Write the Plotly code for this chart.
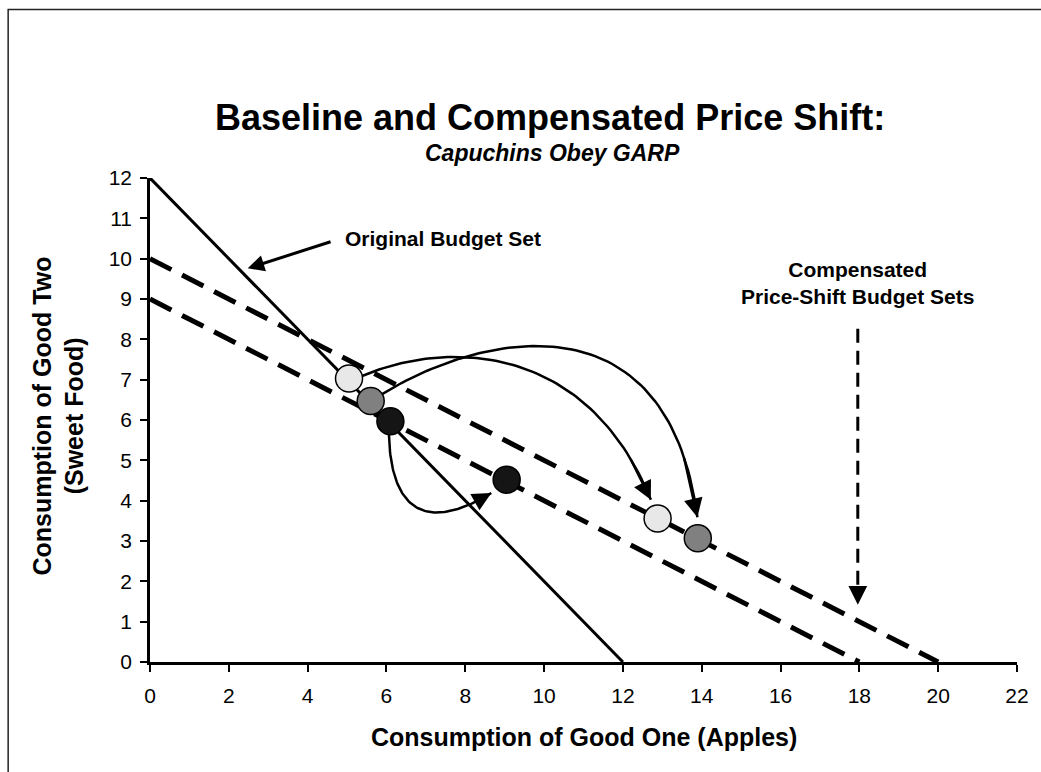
import numpy as np
import plotly.graph_objects as go

# ---- data ----
orig_budget_x = [0, 12]
orig_budget_y = [12, 0]
comp_high_x = [0, 20]
comp_high_y = [10, 0]
comp_low_x = [0, 18]
comp_low_y = [9, 0]

choice_x = [5.05, 5.6, 6.1, 9.05, 12.88, 13.9]
choice_y = [7.03, 6.47, 5.97, 4.52, 3.56, 3.07]
choice_fill = ["#e8e8e8", "#808080", "#151515", "#151515", "#e8e8e8", "#808080"]

# curved arrow control points (data units)
curve1_x = [5.38, 7.58, 11.11, 12.71]
curve1_y = [7.09, 8.01, 7.88, 4.02]
curve2_x = [5.89, 8.34, 13.13, 13.89]
curve2_y = [6.64, 8.13, 9.21, 3.59]
curve3_x = [6.06, 6.11, 7.33, 8.66]
curve3_y = [5.69, 3.39, 3.39, 4.19]

x_ticks = list(range(0, 23, 2))
y_ticks = list(range(0, 13, 1))

FONT = "Liberation Sans, Arial, sans-serif"

W, H = 1041, 772
ML, MR, MT, MB = 150, 20, 178, 110
PW, PH = W - ML - MR, H - MT - MB


def px2paper(px, py):
    return (px - ML) / PW, (H - MB - py) / PH


def bezier(px, py, t):
    t = np.asarray(t)[:, None]
    P = np.array([px, py]).T
    pts = ((1 - t) ** 3) * P[0] + 3 * ((1 - t) ** 2) * t * P[1] + 3 * (1 - t) * t ** 2 * P[2] + t ** 3 * P[3]
    return pts[:, 0], pts[:, 1]


fig = go.Figure()

fig.add_trace(go.Scatter(x=orig_budget_x, y=orig_budget_y, mode="lines",
                         line=dict(color="black", width=3), hoverinfo="skip"))
fig.add_trace(go.Scatter(x=comp_high_x, y=comp_high_y, mode="lines",
                         line=dict(color="black", width=5, dash="24px,12px"), hoverinfo="skip"))
fig.add_trace(go.Scatter(x=comp_low_x, y=comp_low_y, mode="lines",
                         line=dict(color="black", width=5, dash="24px,12px"), hoverinfo="skip"))

annotations = []
ts = np.linspace(0, 1, 80)
for cx, cy in [(curve1_x, curve1_y), (curve2_x, curve2_y), (curve3_x, curve3_y)]:
    bx, by = bezier(cx, cy, ts)
    fig.add_trace(go.Scatter(x=bx, y=by, mode="lines",
                             line=dict(color="black", width=2.5), hoverinfo="skip"))
    hx, hy = bezier(cx, cy, [0.9])
    annotations.append(dict(x=cx[3], y=cy[3], ax=float(hx[0]), ay=float(hy[0]),
                            xref="x", yref="y", axref="x", ayref="y", text="",
                            showarrow=True, arrowhead=2, arrowsize=1.5,
                            arrowwidth=2.5, arrowcolor="black"))

fig.add_trace(go.Scatter(x=[17.96, 17.96], y=[8.26, 1.7], mode="lines",
                         line=dict(color="black", width=3, dash="14px,8px"), hoverinfo="skip"))
annotations.append(dict(x=17.96, y=1.42, ax=17.96, ay=1.9, xref="x", yref="y",
                        axref="x", ayref="y", text="", showarrow=True, arrowhead=2,
                        arrowsize=1.5, arrowwidth=2.5, arrowcolor="black"))

annotations.append(dict(x=2.48, y=9.76, ax=4.62, ay=10.43, xref="x", yref="y",
                        axref="x", ayref="y", text="", showarrow=True, arrowhead=2,
                        arrowsize=1.1, arrowwidth=3, arrowcolor="black"))

fig.add_trace(go.Scatter(x=choice_x, y=choice_y, mode="markers",
                         marker=dict(size=27, color=choice_fill,
                                     line=dict(color="black", width=1.5)),
                         hoverinfo="skip", cliponaxis=False))

tx, ty = px2paper(552, 118)
sx, sy = px2paper(554, 153)
xtx, xty = px2paper(586, 737)
y1x, y1y = px2paper(41, 416)
y2x, y2y = px2paper(74, 416)

annotations += [
    dict(x=4.9, y=10.5, xref="x", yref="y", text="<b>Original Budget Set</b>",
         showarrow=False, xanchor="left", yanchor="middle",
         font=dict(family=FONT, size=21, color="black")),
    dict(x=17.96, y=9.4, xref="x", yref="y",
         text="<b>Compensated<br>Price-Shift Budget Sets</b>",
         showarrow=False, xanchor="center", yanchor="middle",
         font=dict(family=FONT, size=21, color="black")),
    dict(x=tx, y=ty, xref="paper", yref="paper",
         text="<b>Baseline and Compensated Price Shift:</b>",
         showarrow=False, xanchor="center", yanchor="middle",
         font=dict(family=FONT, size=36, color="black")),
    dict(x=sx, y=sy, xref="paper", yref="paper",
         text="<b><i>Capuchins Obey GARP</i></b>",
         showarrow=False, xanchor="center", yanchor="middle",
         font=dict(family=FONT, size=23, color="black")),
    dict(x=xtx, y=xty, xref="paper", yref="paper",
         text="<b>Consumption of Good One (Apples)</b>",
         showarrow=False, xanchor="center", yanchor="middle",
         font=dict(family=FONT, size=25, color="black")),
    dict(x=y1x, y=y1y, xref="paper", yref="paper",
         text="<b>Consumption of Good Two</b>", textangle=-90,
         showarrow=False, xanchor="center", yanchor="middle",
         font=dict(family=FONT, size=25, color="black")),
    dict(x=y2x, y=y2y, xref="paper", yref="paper",
         text="<b>(Sweet Food)</b>", textangle=-90,
         showarrow=False, xanchor="center", yanchor="middle",
         font=dict(family=FONT, size=25, color="black")),
]

fx0, fy1 = px2paper(7.5, 9.5)
fig.update_layout(
    width=W, height=H,
    margin=dict(l=ML, r=MR, t=MT, b=MB),
    plot_bgcolor="white", paper_bgcolor="white",
    showlegend=False,
    annotations=annotations,
    shapes=[dict(type="rect", xref="paper", yref="paper",
                 x0=fx0, x1=1.2, y0=-0.5, y1=fy1,
                 line=dict(color="#222222", width=1.5), fillcolor="rgba(0,0,0,0)",
                 layer="below")],
)
fig.update_xaxes(range=[0, 22], tickvals=x_ticks, showgrid=False, zeroline=False,
                 showline=True, linecolor="black", linewidth=2.5,
                 ticks="outside", ticklen=7, tickwidth=2, tickcolor="black",
                 ticklabelstandoff=6,
                 tickfont=dict(family=FONT, size=21, color="black"))
fig.update_yaxes(range=[0, 12], tickvals=y_ticks, showgrid=False, zeroline=False,
                 showline=True, linecolor="black", linewidth=2.5,
                 ticks="outside", ticklen=7, tickwidth=2, tickcolor="black",
                 ticklabelstandoff=4,
                 tickfont=dict(family=FONT, size=21, color="black"))

fig.write_html(
    "out.html",
    config={"displayModeBar": False},
    post_script="document.body.style.margin='0';document.body.style.overflow='hidden';",
)
